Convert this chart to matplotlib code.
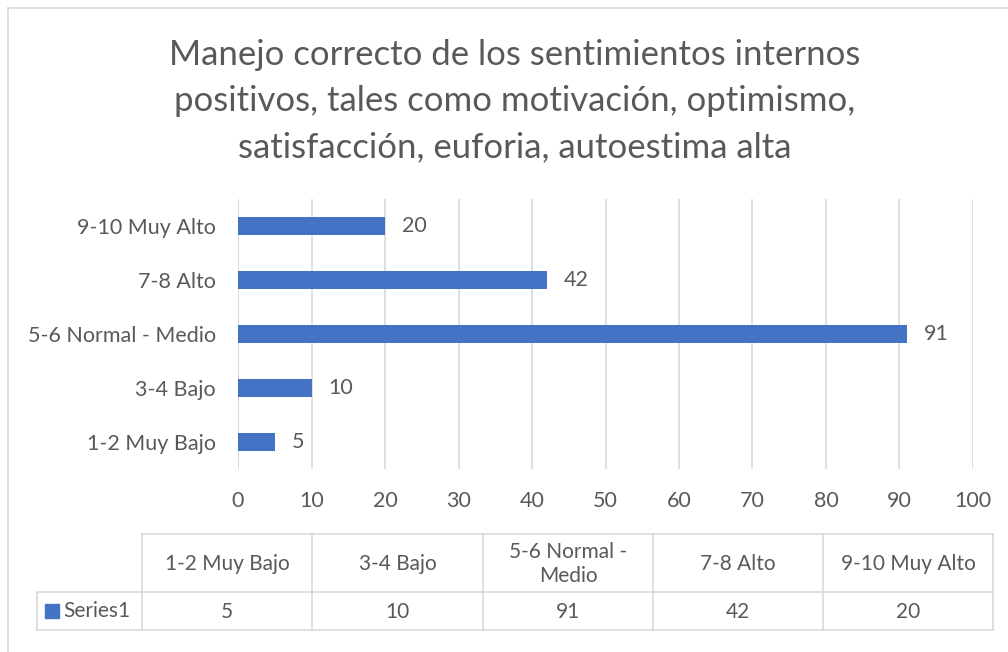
import matplotlib.pyplot as plt
from matplotlib.lines import Line2D

categories = ["1-2 Muy Bajo", "3-4 Bajo", "5-6 Normal - Medio", "7-8 Alto", "9-10 Muy Alto"]
table_headers = ["1-2 Muy Bajo", "3-4 Bajo", "5-6 Normal -\nMedio", "7-8 Alto", "9-10 Muy Alto"]
values = [5, 10, 91, 42, 20]
series_name = "Series1"
title = ("Manejo correcto de los sentimientos internos\n"
         "positivos, tales como motivación, optimismo,\n"
         "satisfacción, euforia, autoestima alta")

bar_color = "#4472C4"
text_color = "#595959"
grid_color = "#D9D9D9"

plt.rcParams['font.family'] = ['Lato', 'DejaVu Sans']

W, H = 1008, 652
fig = plt.figure(figsize=(W / 100, H / 100), dpi=100)

# chart frame (cropped at right and bottom)
fig.add_artist(Line2D([8 / W, 8 / W], [0, 1 - 8 / H], color=grid_color, lw=1.2))
fig.add_artist(Line2D([8 / W, 1], [1 - 8 / H, 1 - 8 / H], color=grid_color, lw=1.2))

fig.text(515 / W, 1 - 101 / H, title, ha='center', va='center', fontsize=25,
         color=text_color, linespacing=1.55)

ax = fig.add_axes([238 / W, 1 - 469 / H, 735 / W, 270 / H])
ypos = list(range(len(categories)))
ax.barh(ypos, values, height=0.34, color=bar_color, zorder=3)
for y, v in zip(ypos, values):
    ax.text(v + 2.3, y, str(v), va='center', ha='left', fontsize=15.5, color=text_color)

ax.set_xlim(0, 100)
ax.set_ylim(-0.5, len(categories) - 0.5)
ax.set_xticks(range(0, 101, 10))
ax.set_yticks(ypos)
ax.set_yticklabels(categories)
ax.tick_params(axis='both', length=0, labelsize=15.5, labelcolor=text_color)
ax.tick_params(axis='x', pad=16)
ax.tick_params(axis='y', pad=16)
ax.grid(axis='x', color=grid_color, lw=1.2, zorder=0)
for s in ax.spines.values():
    s.set_visible(False)
ax.axvline(0, color=grid_color, lw=1.2, zorder=1)

# data table below the axis
col_edges = [142, 312, 483, 653, 823, 993]
row_top, row_mid, row_bot = 534, 592, 630
left_edge = 37

def hline(x0, x1, y):
    fig.add_artist(Line2D([x0 / W, x1 / W], [1 - y / H, 1 - y / H], color=grid_color, lw=1.2))

def vline(x, y0, y1):
    fig.add_artist(Line2D([x / W, x / W], [1 - y0 / H, 1 - y1 / H], color=grid_color, lw=1.2))

hline(col_edges[0], col_edges[-1], row_top)
hline(left_edge, col_edges[-1], row_mid)
hline(left_edge, col_edges[-1], row_bot)
vline(left_edge, row_mid, row_bot)
for x in col_edges:
    vline(x, row_top, row_bot)

for i, (hdr, v) in enumerate(zip(table_headers, values)):
    cx = (col_edges[i] + col_edges[i + 1]) / 2
    fig.text(cx / W, 1 - 564 / H, hdr, ha='center', va='center',
             fontsize=15, color=text_color, linespacing=1.3)
    fig.text(cx / W, 1 - 612 / H, str(v), ha='center', va='center',
             fontsize=15, color=text_color)

fig.add_artist(plt.Rectangle((45 / W, 1 - 618 / H), 14 / W, 14 / H, color=bar_color,
                             transform=fig.transFigure))
fig.text(63 / W, 1 - 611 / H, series_name, ha='left', va='center', fontsize=15, color=text_color)

fig.savefig("out.png", dpi=100)
